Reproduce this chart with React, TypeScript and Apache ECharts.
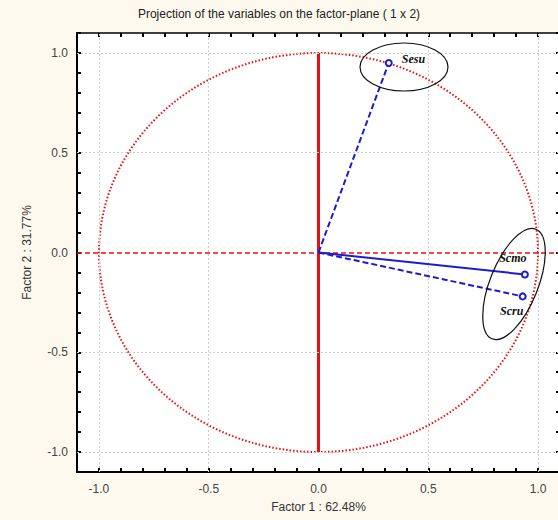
import React, { useEffect, useRef } from "react";
import * as echarts from "echarts";

const variables = ["Sesu", "Scmo", "Scru"];
const factor1 = [0.32, 0.94, 0.93];
const factor2 = [0.95, -0.11, -0.22];
const lineTypes = ["dashed", "solid", "dashed"];
const gridValues = [-1, -0.5, 0.5, 1];

const titleText = "Projection of the variables on the factor-plane ( 1 x 2)";
const xName = "Factor 1 : 62.48%";
const yName = "Factor 2 : 31.77%";

const RED = "#e81010";
const BLUE = "#1c1ccc";

const fmt = (v: number) => {
  const r = Math.round(v * 10);
  if (r % 5 !== 0 || Math.abs(r) > 10) return "";
  return (r / 10).toFixed(1);
};

const baseAxis = {
  type: "value",
  min: -1.1,
  max: 1.1,
  interval: 0.1,
  splitLine: { show: false },
  axisLine: { show: true, onZero: false, lineStyle: { color: "#000", width: 2 } },
  axisTick: { show: true, inside: true, length: 4, lineStyle: { color: "#000", width: 2 } },
};

export default function App() {
  const ref = useRef<HTMLDivElement>(null);
  useEffect(() => {
    if (!ref.current) return;
    const chart = echarts.init(ref.current, null, { renderer: "svg" });

    const vectorSeries = variables.map((name, i) => {
      const labelPos: any =
        i === 0
          ? { position: "right", offset: [4, -4] }
          : i === 1
          ? { position: "top", offset: [-12, -1] }
          : { position: "bottom", offset: [-11, 0] };
      return {
        type: "line",
        name,
        xAxisIndex: 0,
        yAxisIndex: 0,
        z: 5,
        symbolSize: 6,
        showSymbol: true,
        lineStyle: { color: BLUE, width: 2, type: lineTypes[i] === "dashed" ? [6, 3] : "solid" },
        itemStyle: { color: BLUE, borderColor: BLUE, borderWidth: 1.2 },
        data: [
          { value: [0, 0], symbol: "none" },
          {
            value: [factor1[i], factor2[i]],
            symbol: "emptyCircle",
            label: {
              show: true,
              formatter: name,
              ...labelPos,
              color: "#111",
              fontSize: 12,
              fontStyle: "italic",
              fontWeight: "bold",
              fontFamily: '"Liberation Serif", "Times New Roman", serif',
            },
          },
        ],
      };
    });

    chart.setOption({
      animation: false,
      backgroundColor: "#fdf9ee",
      textStyle: { fontFamily: "Arial, 'Liberation Sans', sans-serif" },
      title: {
        text: titleText,
        left: "center",
        top: 3,
        textStyle: { fontSize: 12, fontWeight: "normal", color: "#222" },
      },
      grid: {
        left: 77,
        top: 33,
        right: -2,
        bottom: 48,
        show: true,
        backgroundColor: "#ffffff",
        borderWidth: 0,
        containLabel: false,
        outerBoundsMode: "none",
      },
      xAxis: [
        {
          ...baseAxis,
          position: "bottom",
          name: xName,
          nameLocation: "middle",
          nameGap: 29,
          nameTextStyle: { fontSize: 12, color: "#333" },
          axisLabel: { formatter: fmt, fontSize: 12, color: "#444", margin: 11 },
        },
        {
          ...baseAxis,
          position: "top",
          axisLine: { show: true, onZero: false, lineStyle: { color: "#000", width: 1.5 } },
          axisLabel: { show: false },
        },
      ],
      yAxis: [
        {
          ...baseAxis,
          position: "left",
          name: yName,
          nameLocation: "middle",
          nameGap: 44,
          nameTextStyle: { fontSize: 12, color: "#333" },
          axisLabel: { formatter: fmt, fontSize: 12, color: "#444", margin: 9 },
        },
        {
          ...baseAxis,
          position: "right",
          axisLabel: { show: false },
        },
      ],
      series: [
        {
          type: "line",
          data: [],
          silent: true,
          markLine: {
            silent: true,
            symbol: "none",
            label: { show: false },
            lineStyle: { color: "#cccccc", type: [2, 2], width: 1 },
            data: [
              ...gridValues.map((v) => ({ xAxis: v })),
              ...gridValues.map((v) => ({ yAxis: v })),
            ],
          },
          z: 1,
        },
        {
          type: "line",
          data: [],
          silent: true,
          markLine: {
            silent: true,
            symbol: "none",
            label: { show: false },
            lineStyle: { color: RED, type: [5, 3], width: 1.5 },
            data: [{ yAxis: 0 }],
          },
          z: 2,
        },
        {
          type: "line",
          silent: true,
          symbol: "none",
          z: 3,
          lineStyle: { color: RED, width: 3 },
          data: [
            [0, -1],
            [0, 1],
          ],
        },
        {
          type: "custom",
          silent: true,
          z: 3,
          data: [[0, 0]],
          renderItem: (params: any, api: any) => {
            const pts: number[][] = [];
            for (let a = 0; a <= 360; a += 2) {
              const t = (a * Math.PI) / 180;
              pts.push(api.coord([Math.cos(t), Math.sin(t)]));
            }
            return {
              type: "polyline",
              shape: { points: pts },
              style: { stroke: RED, fill: "none", lineWidth: 2, lineDash: [1.5, 2] },
            };
          },
        },
        ...vectorSeries,
      ],
      graphic: [
        {
          type: "ellipse",
          x: 404,
          y: 67,
          shape: { cx: 0, cy: 0, rx: 44, ry: 24 },
          style: { stroke: "#111", fill: "none", lineWidth: 1.2 },
          z: 10,
        },
        {
          type: "ellipse",
          x: 514,
          y: 284,
          rotation: -0.38,
          shape: { cx: 0, cy: 0, rx: 24, ry: 59 },
          style: { stroke: "#111", fill: "none", lineWidth: 1.2 },
          z: 10,
        },
      ],
    });
    return () => chart.dispose();
  }, []);
  return (
    <div
      ref={ref}
      style={{ position: "fixed", left: 0, top: 0, width: 558, height: 520 }}
    />
  );
}
